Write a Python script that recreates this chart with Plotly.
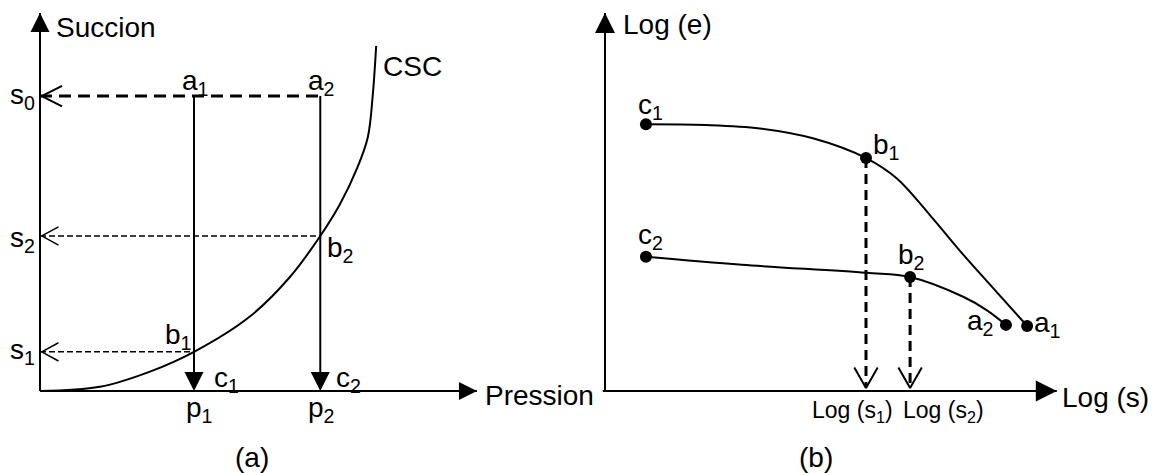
import plotly.graph_objects as go

# ---------------- Panel (a): Pression / Succion ----------------
p_labels = ["p<sub>1</sub>", "p<sub>2</sub>"]
p_values = [3.5, 6.37]                     # p1, p2
a_labels = ["a<sub>1</sub>", "a<sub>2</sub>"]
b_labels_a = ["b<sub>1</sub>", "b<sub>2</sub>"]
c_labels = ["c<sub>1</sub>", "c<sub>2</sub>"]
s0 = 7.76
s_labels = ["s<sub>1</sub>", "s<sub>2</sub>"]
s_values = [1.03, 4.08]                    # s1, s2 (on the CSC curve)
csc_p = [0, 1.36, 2.5, 3.5, 4.77, 5.68, 6.37, 6.82, 7.21, 7.45, 7.56, 7.64]
csc_s = [0, 0.11, 0.51, 1.03, 1.96, 3.00, 4.08, 4.92, 5.87, 6.68, 7.75, 9.08]
axis_a_p_max = 9.93
axis_a_s_max = 9.95

# ---------------- Panel (b): Log(s) / Log(e) ----------------
curve1_u = [0.91, 2.24, 3.44, 4.62, 5.80, 6.48, 7.22, 7.96, 8.70, 9.38]
curve1_v = [7.02, 7.00, 6.91, 6.65, 6.13, 5.60, 4.63, 3.59, 2.61, 1.71]
curve1_idx = {"c": 0, "b": 4, "a": 9}
curve2_u = [0.91, 3.04, 5.80, 6.78, 7.96, 8.48, 8.91]
curve2_v = [3.53, 3.32, 3.11, 3.00, 2.48, 2.13, 1.74]
curve2_idx = {"c": 0, "b": 3, "a": 6}
logs_labels = ["Log (s<sub>1</sub>)", "Log (s<sub>2</sub>)"]
axis_b_u_max = 10.04
axis_b_v_max = 9.95

K = "#000000"
FONT = "Liberation Sans, Arial, sans-serif"
FS = 28
# the page body has an 8px margin: the figure starts at (8, 8) in the window
OFF = 8
W, H = 1156 - OFF, 473 - OFF
fig = go.Figure()


def line(xs, ys, xa, width=2.0, dash="solid", shape="linear"):
    fig.add_trace(go.Scatter(
        x=xs, y=ys, xaxis=xa, yaxis="y", mode="lines",
        line=dict(color=K, width=width, dash=dash, shape=shape),
        hoverinfo="skip", showlegend=False))


def marker(x, y, xa, symbol, size):
    fig.add_trace(go.Scatter(
        x=[x], y=[y], xaxis=xa, yaxis="y", mode="markers",
        marker=dict(symbol=symbol, size=size, color=K, line=dict(width=0)),
        hoverinfo="skip", showlegend=False))


def label(text, x, y, xa, xshift=0, yshift=0, size=FS, xanchor="center"):
    fig.add_annotation(
        text=text, x=x, y=y, xref=xa, yref="y", showarrow=False,
        xshift=xshift, yshift=yshift, xanchor=xanchor, yanchor="middle",
        font=dict(family=FONT, size=size, color=K))


def caption(text, px, py):
    fig.add_annotation(text=text, x=(px - OFF) / W, y=1 - (py - OFF) / H,
                       xref="paper", yref="paper", showarrow=False,
                       xanchor="center", yanchor="middle",
                       font=dict(family=FONT, size=FS, color=K))


# ---- panel (a) axes ----
line([0, 0], [0, axis_a_s_max], "x")
marker(0, axis_a_s_max, "x", "arrow-up", 19)
line([0, axis_a_p_max], [0, 0], "x")
marker(axis_a_p_max, 0, "x", "arrow-right", 18)
label("Succion", 0, axis_a_s_max, "x", xshift=14, yshift=-15, xanchor="left")
label("Pression", axis_a_p_max, 0, "x", xshift=6, yshift=-4, xanchor="left")

# CSC curve
line(csc_p, csc_s, "x", width=2, shape="spline")
label("CSC", csc_p[-1], csc_s[-1], "x", xshift=5, yshift=-21, xanchor="left")

# s0 thick dashed line with open arrow at the axis
line([0, p_values[1]], [s0, s0], "x", width=3, dash="12px,7px")
line([0.5, 0.04, 0.5], [s0 + 0.27, s0, s0 - 0.27], "x", width=2)
label("s<sub>0</sub>", 0, s0, "x", xshift=-18, yshift=0)

# s1, s2 thin dashed lines
for lab, pv, sv, ys in zip(s_labels, p_values, s_values, [0, -4]):
    line([0, pv], [sv, sv], "x", width=1.5, dash="6px,3px")
    line([0.42, 0.04, 0.42], [sv + 0.24, sv, sv - 0.24], "x", width=1.5)
    label(lab, 0, sv, "x", xshift=-18, yshift=ys)

# vertical paths a -> b -> c
for i, pv in enumerate(p_values):
    line([pv, pv], [s0, 0.3], "x", width=2)
    marker(pv, 0, "x", "arrow-down", 19)
    label(a_labels[i], pv, s0, "x", xshift=1, yshift=14)
    label(p_labels[i], pv, 0, "x", xshift=5 if i == 0 else 1, yshift=-18)
label(c_labels[0], p_values[0], 0, "x", xshift=32, yshift=12)
label(c_labels[1], p_values[1], 0, "x", xshift=28, yshift=12)
label(b_labels_a[0], p_values[0], s_values[0], "x", xshift=-16, yshift=15)
label(b_labels_a[1], p_values[1], s_values[1], "x", xshift=20, yshift=-14)

caption("(a)", 252, 457)

# ---- panel (b) axes ----
line([0, 0], [0, axis_b_v_max], "x2")
marker(0, axis_b_v_max, "x2", "arrow-up", 20)
line([-0.05, axis_b_u_max], [0, 0], "x2")
marker(axis_b_u_max, 0, "x2", "arrow-right", 21)
label("Log (e)", 0, axis_b_v_max, "x2", xshift=16, yshift=-12, xanchor="left")
label("Log (s)", axis_b_u_max, 0, "x2", xshift=3, yshift=-6, xanchor="left")

# dashed projections b1, b2 -> Log(s1), Log(s2)
b1u, b1v = curve1_u[curve1_idx["b"]], curve1_v[curve1_idx["b"]]
b2u, b2v = curve2_u[curve2_idx["b"]], curve2_v[curve2_idx["b"]]
for bu, bv in [(b1u, b1v), (b2u, b2v)]:
    line([bu, bu], [bv, 0.1], "x2", width=3, dash="10px,6px")
    line([bu - 0.26, bu, bu + 0.26], [0.62, 0.08, 0.62], "x2", width=2)
label(logs_labels[0], b1u, 0, "x2", xshift=-14, yshift=-20, size=23)
label(logs_labels[1], b2u, 0, "x2", xshift=33, yshift=-20, size=23)

# curves
line(curve1_u, curve1_v, "x2", width=2, shape="spline")
line(curve2_u, curve2_v, "x2", width=2, shape="spline")
pts_u = [curve1_u[i] for i in curve1_idx.values()] + [curve2_u[i] for i in curve2_idx.values()]
pts_v = [curve1_v[i] for i in curve1_idx.values()] + [curve2_v[i] for i in curve2_idx.values()]
fig.add_trace(go.Scatter(x=pts_u, y=pts_v, xaxis="x2", yaxis="y", mode="markers",
                         marker=dict(size=12, color=K, line=dict(width=0)),
                         hoverinfo="skip", showlegend=False))

label("c<sub>1</sub>", curve1_u[0], curve1_v[0], "x2", xshift=5, yshift=18)
label("b<sub>1</sub>", b1u, b1v, "x2", xshift=20, yshift=12)
label("a<sub>1</sub>", curve1_u[-1], curve1_v[-1], "x2", xshift=20, yshift=2)
label("c<sub>2</sub>", curve2_u[0], curve2_v[0], "x2", xshift=5, yshift=20)
label("b<sub>2</sub>", b2u, b2v, "x2", xshift=1, yshift=21)
label("a<sub>2</sub>", curve2_u[-1], curve2_v[-1], "x2", xshift=-26, yshift=2)

caption("(b)", 816, 457)

fig.update_layout(
    width=W, height=H, autosize=False,
    margin=dict(l=0, r=0, t=0, b=0, pad=0),
    paper_bgcolor="white", plot_bgcolor="white",
    xaxis=dict(range=[(OFF - 40) / 44, (1156 - 40) / 44], visible=False,
               domain=[0, 1], fixedrange=True),
    xaxis2=dict(range=[(OFF - 605) / 45, (1156 - 605) / 45], visible=False,
                domain=[0, 1], overlaying="x", fixedrange=True),
    yaxis=dict(range=[(391 - 473) / 38, (391 - OFF) / 38], visible=False,
               domain=[0, 1], fixedrange=True),
    showlegend=False,
)

fig.write_html("out.html")
